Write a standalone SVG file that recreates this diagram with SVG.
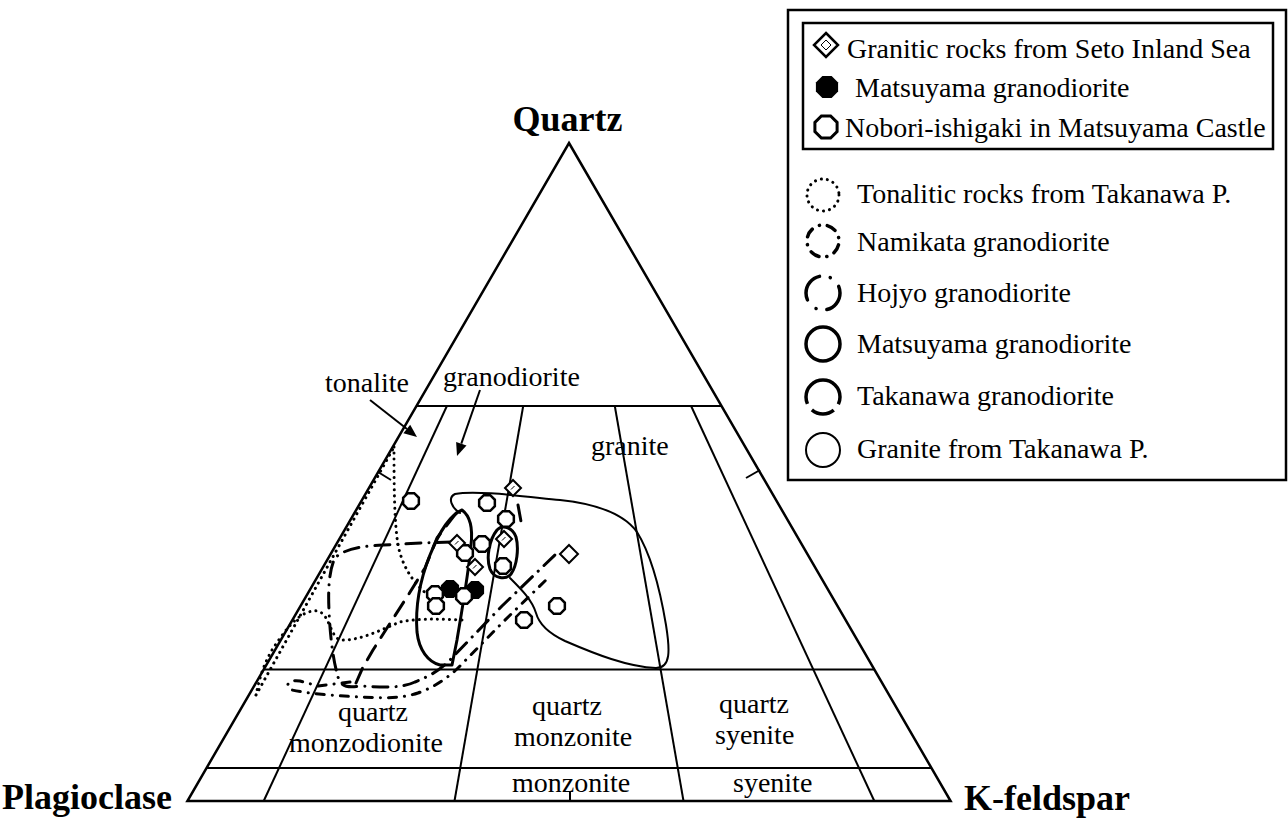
<svg xmlns="http://www.w3.org/2000/svg" width="1288" height="818" viewBox="0 0 1288 818">
<style>
 text{font-family:"Liberation Serif","Times New Roman",serif;fill:#000}
 .lbl{font-size:28px}
 .big{font-size:36px;font-weight:bold}
 .frame{fill:none;stroke:#000;stroke-width:2.5;stroke-linejoin:miter}
 .grid{fill:none;stroke:#000;stroke-width:2}
 .fld{fill:none;stroke:#000;stroke-linecap:round;stroke-linejoin:round}
 .dot{stroke-width:3;stroke-dasharray:0.1 6}
 .nam{stroke-width:3;stroke-dasharray:8 8 0.1 8}
 .hoj{stroke-width:3;stroke-dasharray:15 8 0.1 8}
 .mat{stroke-width:3}
 .tak{stroke-width:3;stroke-dasharray:16 10}
 .gra{stroke-width:2}
 .oct{fill:#fff;stroke:#000;stroke-width:2.5}
 .octf{fill:#000;stroke:#000;stroke-width:2.5}
 .dia{fill:#fff;stroke:#000;stroke-width:2}
</style>
<defs>
 <polygon id="oct" points="7.85,-3.25 3.25,-7.85 -3.25,-7.85 -7.85,-3.25 -7.85,3.25 -3.25,7.85 3.25,7.85 7.85,3.25"/>
 <polygon id="octL" points="11.1,-4.6 4.6,-11.1 -4.6,-11.1 -11.1,-4.6 -11.1,4.6 -4.6,11.1 4.6,11.1 11.1,4.6"/>
 <g id="dia">
  <polygon class="dia" points="0,-8 8,0 0,8 -8,0"/>
  <line x1="-2" y1="1.5" x2="1.5" y2="-2" stroke="#000" stroke-width="1"/>
 </g>
</defs>
<rect width="1288" height="818" fill="#fff"/>

<g id="triangle">
 <polygon class="frame" points="569,143 950.6,801 187.4,801"/>
 <line class="grid" x1="416.5" y1="406" x2="721.5" y2="406"/>
 <line class="grid" x1="263.7" y1="669.4" x2="874.3" y2="669.4"/>
 <line class="grid" x1="206.5" y1="768" x2="931.5" y2="768"/>
 <line class="grid" x1="446.9" y1="406" x2="263.7" y2="801"/>
 <line class="grid" x1="523.2" y1="406" x2="454.5" y2="801"/>
 <line class="grid" x1="614.8" y1="406" x2="683.5" y2="801"/>
 <line class="grid" x1="691.1" y1="406" x2="874.3" y2="801"/>
 <line class="grid" x1="378" y1="472" x2="391" y2="480"/>
 <line class="grid" x1="760" y1="470" x2="746" y2="478"/>
 <line class="grid" x1="570" y1="792" x2="570" y2="801"/>
</g>

<g id="axis-labels">
 <text class="big" x="567.5" y="131" text-anchor="middle">Quartz</text>
 <text class="big" x="2" y="809">Plagioclase</text>
 <text class="big" x="964" y="810">K-feldspar</text>
</g>

<g id="field-labels">
 <text class="lbl" x="325" y="392">tonalite</text>
 <text class="lbl" x="443" y="386">granodiorite</text>
 <text class="lbl" x="591" y="455">granite</text>
 <text class="lbl" x="338" y="721">quartz</text>
 <text class="lbl" x="289" y="752">monzodionite</text>
 <text class="lbl" x="532" y="715">quartz</text>
 <text class="lbl" x="514" y="746">monzonite</text>
 <text class="lbl" x="719" y="713">quartz</text>
 <text class="lbl" x="715" y="744">syenite</text>
 <text class="lbl" x="512" y="792">monzonite</text>
 <text class="lbl" x="733" y="792">syenite</text>
</g>

<g id="arrows">
 <line class="grid" x1="370" y1="400" x2="407" y2="429"/>
 <polygon points="417,437 403.4,433.3 410.2,424.7" fill="#000"/>
 <line class="grid" x1="480" y1="390" x2="461.3" y2="443.7"/>
 <polygon points="457,456 456.1,441.9 466.5,445.5" fill="#000"/>
</g>

<g id="fields">
 <path class="fld dot" d="M256,695 L394,447"/>
 <path class="fld dot" d="M394,447 C394,480 394,520 398,545 C402,565 412,582 428,595"/>
 <path class="fld dot" d="M462,620 C440,619 420,618 400,622 C380,630 360,641 340,640 C330,636 330,615 318,611 C300,609 285,630 272,650 C265,662 260,675 256,695"/>
 <path class="fld gra" d="M460,513 C452,508 447,498 455,494 C475,490 520,496 560,500 C598,504 624,514 637,532 C652,556 661,595 666,625 C670,650 671,668 656,668 C628,667 595,654 565,641 C548,633 539,624 536,613 C532,600 522,590 510,578"/>
 <path class="fld mat" d="M497,530 C489,540 486,558 490,569 C494,579 506,580 511,574 C517,566 519,548 516,537 C513,528 503,524 497,530 Z"/>
 <path class="fld mat" d="M462,510 C470,516 473,528 471,545 C469,570 462,610 457,640 L452,665 L440,665 C428,662 419,650 417,632 C415,605 420,580 430,555 C438,535 448,516 462,510 Z"/>
 <path class="fld tak" d="M356,683 L363,667 L373,650 L387,628 L407,597 L425,568 L437,538 L457,512"/>
 <path class="fld tak" d="M518,505 L522,527"/>
 <path class="fld hoj" d="M452,542 L422,543 L383,545 C365,546 345,548 335,558 C329,570 328,590 329,610 C330,635 333,660 338,677 C341,687 348,688 360,686 C380,687 400,689 415,682 C430,676 440,670 449,661 L502,606 L557,553"/>
 <path class="fld nam" d="M350,682 L318,686 L300,681 C288,679 284,686 292,690 C310,694 340,696 360,697 C380,698 400,699 418,693 C432,688 445,680 457,669 L503,622 L546,580"/>
</g>

<g id="points">
 <use href="#oct" x="450" y="589" class="octf"/>
 <use href="#oct" x="475" y="590" class="octf"/>
 <use href="#oct" x="411" y="501" class="oct"/>
 <use href="#oct" x="487" y="503" class="oct"/>
 <use href="#oct" x="506" y="519" class="oct"/>
 <use href="#oct" x="482" y="544" class="oct"/>
 <use href="#oct" x="465" y="553" class="oct"/>
 <use href="#oct" x="503" y="566" class="oct"/>
 <use href="#oct" x="557" y="606" class="oct"/>
 <use href="#oct" x="524" y="620" class="oct"/>
 <use href="#oct" x="435" y="594" class="oct"/>
 <use href="#oct" x="436" y="606" class="oct"/>
 <use href="#oct" x="464" y="596" class="oct"/>
 <use href="#dia" x="513" y="488"/>
 <use href="#dia" x="457" y="543"/>
 <use href="#dia" x="504" y="539"/>
 <use href="#dia" x="475" y="567"/>
 <polygon class="dia" points="569,545 578,554 569,563 560,554"/>
</g>

<g id="legend">
 <rect x="788" y="10" width="498" height="470" fill="#fff" stroke="#000" stroke-width="2.5"/>
 <rect x="803" y="23" width="470" height="126" fill="none" stroke="#000" stroke-width="2.5"/>
 <g id="leg-seto">
  <polygon points="826,33 838,45 826,57 814,45" fill="#fff" stroke="#000" stroke-width="2.5"/>
  <polygon points="826,40 831,45 826,50 821,45" fill="none" stroke="#000" stroke-width="1"/>
  <text class="lbl" x="847" y="58">Granitic rocks from Seto Inland Sea</text>
 </g>
 <g id="leg-mat-pt">
  <use href="#octL" x="827" y="87" fill="#000"/>
  <text class="lbl" x="855" y="97">Matsuyama granodiorite</text>
 </g>
 <g id="leg-nobori">
  <use href="#octL" x="826" y="127" fill="#fff" stroke="#000" stroke-width="3"/>
  <text class="lbl" x="845" y="137">Nobori-ishigaki in Matsuyama Castle</text>
 </g>
 <g id="leg-tonalitic">
  <circle cx="823" cy="195" r="16" class="fld dot"/>
  <text class="lbl" x="857" y="203">Tonalitic rocks from Takanawa P.</text>
 </g>
 <g id="leg-namikata">
  <circle cx="823" cy="241" r="16" class="fld" stroke-width="3.5" stroke-dasharray="9 8 0.1 8" stroke-dashoffset="-4"/>
  <text class="lbl" x="857" y="251">Namikata granodiorite</text>
 </g>
 <g id="leg-hojyo">
  <circle cx="823" cy="293" r="17" class="fld" stroke-width="3.5" stroke-dasharray="30 11 0.1 12.3" stroke-dashoffset="-46"/>
  <text class="lbl" x="857" y="302">Hojyo granodiorite</text>
 </g>
 <g id="leg-matsuyama">
  <circle cx="823" cy="344" r="17" fill="none" stroke="#000" stroke-width="3.5"/>
  <text class="lbl" x="857" y="353">Matsuyama granodiorite</text>
 </g>
 <g id="leg-takanawa">
  <circle cx="823" cy="397" r="17" fill="none" stroke="#000" stroke-width="3.5" stroke-dasharray="68.2 7.4 23.7 7.4" stroke-dashoffset="-46"/>
  <text class="lbl" x="857" y="405">Takanawa granodiorite</text>
 </g>
 <g id="leg-granite">
  <circle cx="823" cy="450" r="17" fill="none" stroke="#000" stroke-width="2"/>
  <text class="lbl" x="857" y="458">Granite from Takanawa P.</text>
 </g>
</g>
</svg>
